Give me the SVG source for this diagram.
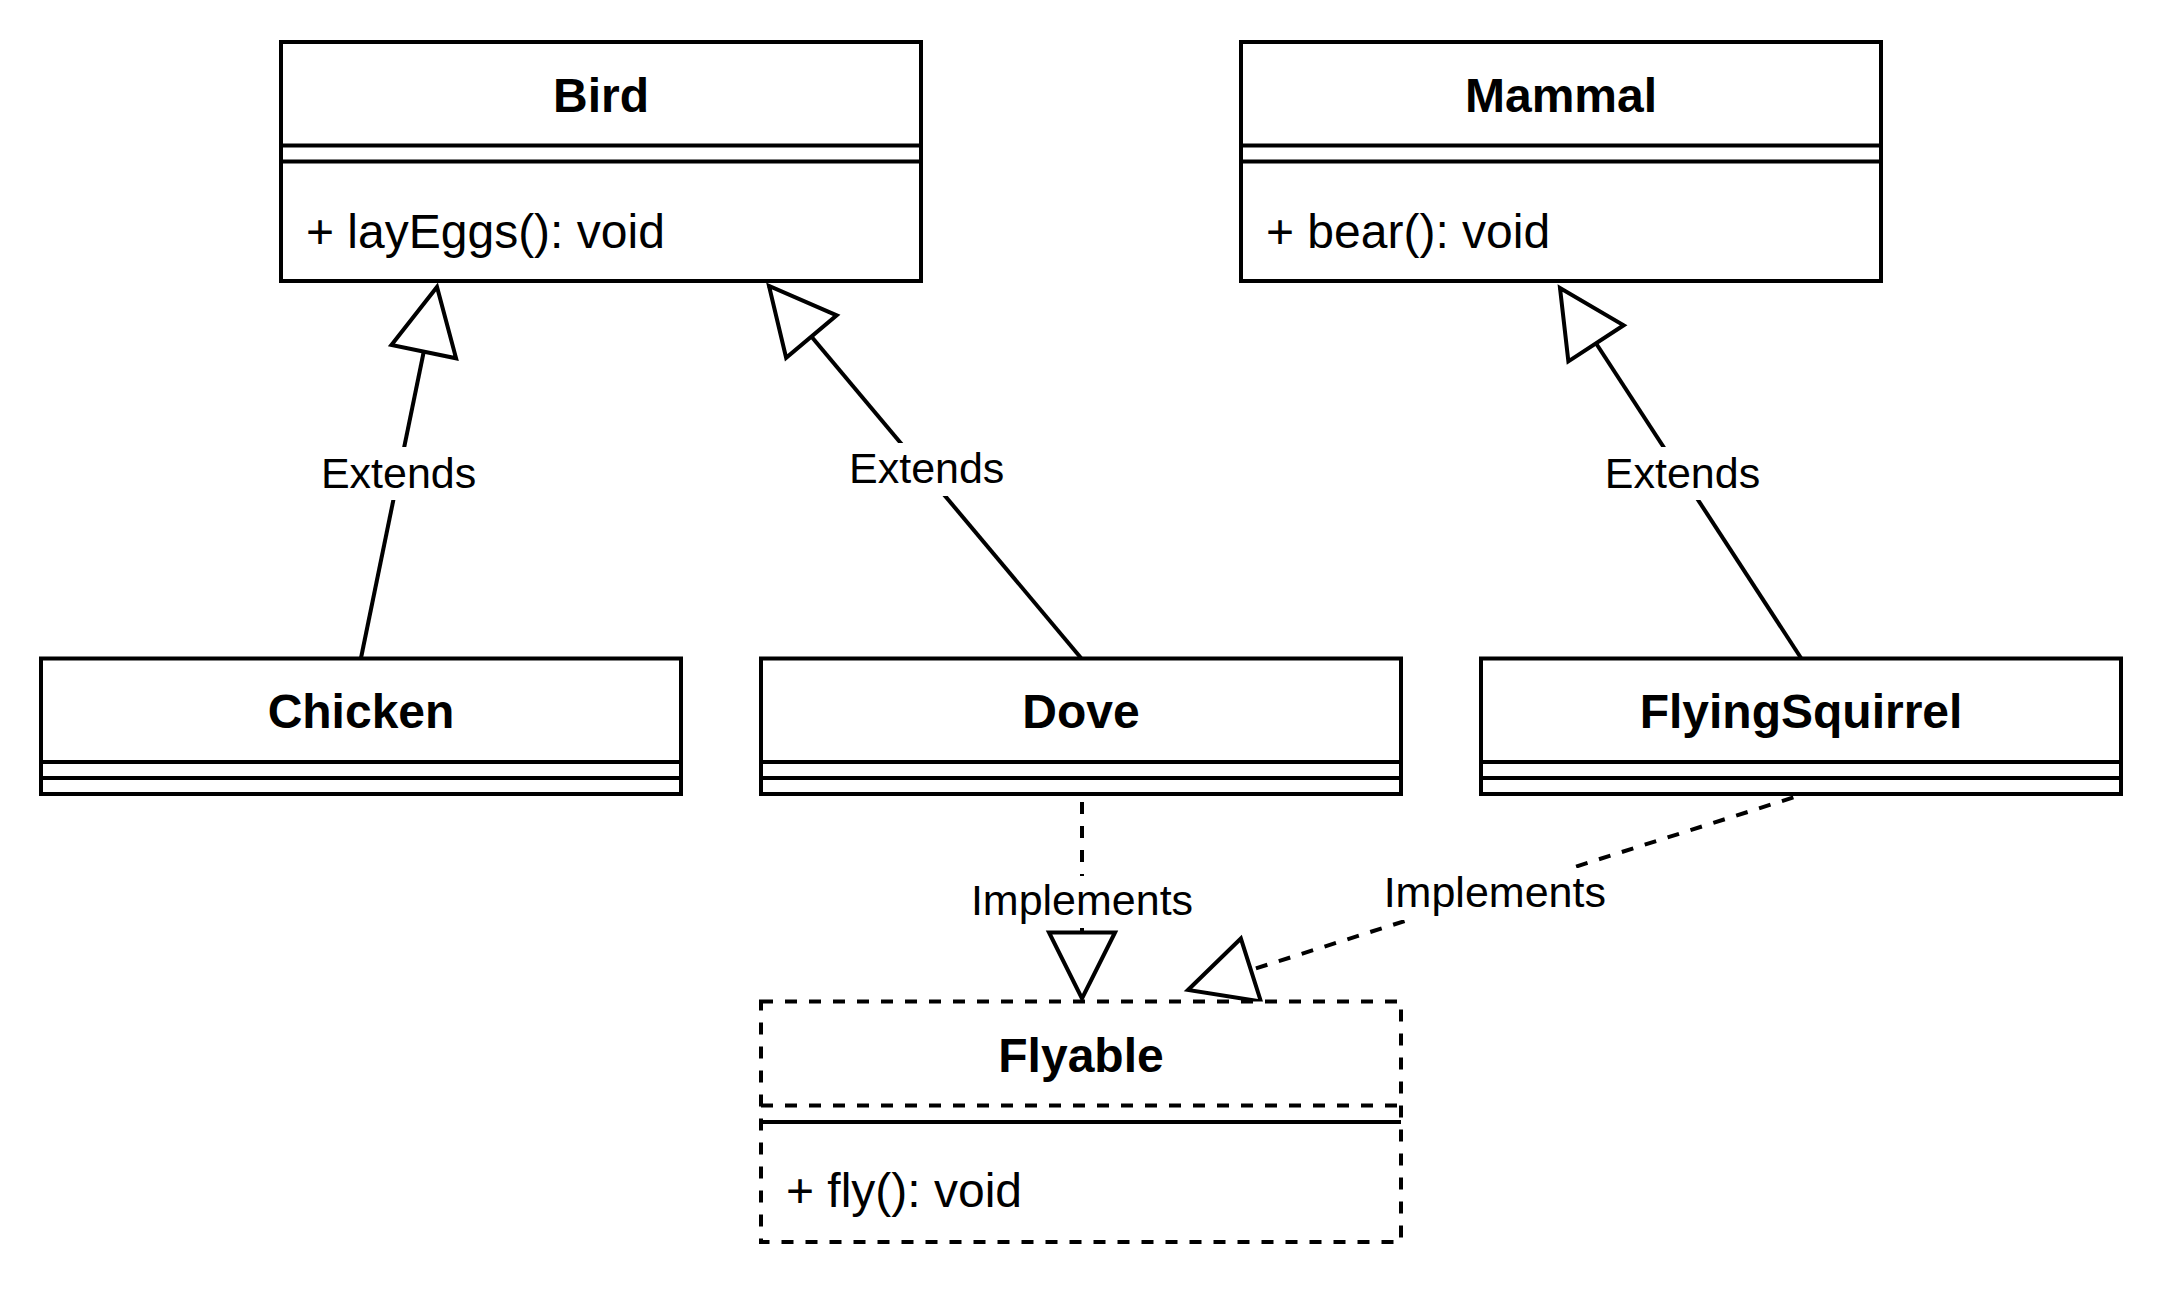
<svg xmlns="http://www.w3.org/2000/svg" width="2164" height="1296" viewBox="0 0 2164 1296">
  <style>
    .box { fill: #ffffff; stroke: #000000; stroke-width: 4; }
    .dbox { fill: #ffffff; stroke: #000000; stroke-width: 4; stroke-dasharray: 12 12; }
    .sep { stroke: #000000; stroke-width: 4; fill: none; }
    .dsep { stroke: #000000; stroke-width: 4; fill: none; stroke-dasharray: 12 12; }
    .title { font-family: "Liberation Sans", Arial, Helvetica, sans-serif; font-weight: bold; font-size: 48px; text-anchor: middle; fill: #000000; }
    .member { font-family: "Liberation Sans", Arial, Helvetica, sans-serif; font-size: 48px; fill: #000000; }
    .edge { stroke: #000000; stroke-width: 4; fill: none; marker-end: url(#hollow); }
    .dashed { stroke-dasharray: 12 12; stroke-dashoffset: 16; }
    .lbl { font-family: "Liberation Sans", Arial, Helvetica, sans-serif; font-size: 43px; text-anchor: middle; fill: #000000; }
    .lblbg { fill: #ffffff; stroke: none; }
  </style>
  <defs>
    <marker id="hollow" markerUnits="userSpaceOnUse" viewBox="0 0 74 76" refX="69" refY="38" markerWidth="74" markerHeight="76" orient="auto" overflow="visible">
      <path d="M3,5 L69,38 L3,71 Z" fill="#ffffff" stroke="#000000" stroke-width="4" stroke-dasharray="none"/>
    </marker>
  </defs>
  <rect x="0" y="0" width="2164" height="1296" fill="#ffffff"/>

  <g id="connectors">
    <g id="edge-chicken-bird">
      <line class="edge" x1="361" y1="658" x2="437" y2="287"/>
      <rect class="lblbg" x="318" y="447" width="161" height="53"/>
      <text class="lbl" x="398.6" y="488">Extends</text>
    </g>
    <g id="edge-dove-bird">
      <line class="edge" x1="1081" y1="658" x2="769" y2="286"/>
      <rect class="lblbg" x="846" y="443" width="161" height="53"/>
      <text class="lbl" x="926.7" y="483.3">Extends</text>
    </g>
    <g id="edge-squirrel-mammal">
      <line class="edge" x1="1801" y1="658" x2="1560" y2="288"/>
      <rect class="lblbg" x="1602" y="447" width="161" height="53"/>
      <text class="lbl" x="1682.5" y="488.3">Extends</text>
    </g>
    <g id="edge-dove-flyable">
      <line class="edge dashed" x1="1082" y1="794" x2="1082" y2="998.5"/>
      <rect class="lblbg" x="967" y="876" width="230" height="52"/>
      <text class="lbl" x="1082" y="915">Implements</text>
    </g>
    <g id="edge-squirrel-flyable">
      <line class="edge dashed" x1="1801" y1="795" x2="1188" y2="990"/>
      <rect class="lblbg" x="1382" y="868" width="226" height="52"/>
      <text class="lbl" x="1494.8" y="907.3">Implements</text>
    </g>
  </g>

  <g id="Bird">
    <rect class="box" x="281" y="42" width="640" height="239"/>
    <line class="sep" x1="281" y1="145.5" x2="921" y2="145.5"/>
    <line class="sep" x1="281" y1="161.5" x2="921" y2="161.5"/>
    <text class="title" x="601" y="111.7">Bird</text>
    <text class="member" x="306" y="248">+ layEggs(): void</text>
  </g>

  <g id="Mammal">
    <rect class="box" x="1241" y="42" width="640" height="239"/>
    <line class="sep" x1="1241" y1="145.5" x2="1881" y2="145.5"/>
    <line class="sep" x1="1241" y1="161.5" x2="1881" y2="161.5"/>
    <text class="title" x="1561" y="111.7">Mammal</text>
    <text class="member" x="1266" y="248">+ bear(): void</text>
  </g>

  <g id="Chicken">
    <rect class="box" x="41" y="658.5" width="640" height="135.5"/>
    <line class="sep" x1="41" y1="762" x2="681" y2="762"/>
    <line class="sep" x1="41" y1="778" x2="681" y2="778"/>
    <text class="title" x="361" y="728.3">Chicken</text>
  </g>

  <g id="Dove">
    <rect class="box" x="761" y="658.5" width="640" height="135.5"/>
    <line class="sep" x1="761" y1="762" x2="1401" y2="762"/>
    <line class="sep" x1="761" y1="778" x2="1401" y2="778"/>
    <text class="title" x="1081" y="728.3">Dove</text>
  </g>

  <g id="FlyingSquirrel">
    <rect class="box" x="1481" y="658.5" width="640" height="135.5"/>
    <line class="sep" x1="1481" y1="762" x2="2121" y2="762"/>
    <line class="sep" x1="1481" y1="778" x2="2121" y2="778"/>
    <text class="title" x="1801" y="728.3">FlyingSquirrel</text>
  </g>

  <g id="Flyable">
    <rect class="dbox" x="761" y="1001.5" width="640" height="240.5"/>
    <line class="dsep" x1="761" y1="1105.5" x2="1401" y2="1105.5"/>
    <line class="sep" x1="761" y1="1122" x2="1401" y2="1122"/>
    <text class="title" x="1081" y="1071.7">Flyable</text>
    <text class="member" x="786" y="1207">+ fly(): void</text>
  </g>
</svg>
